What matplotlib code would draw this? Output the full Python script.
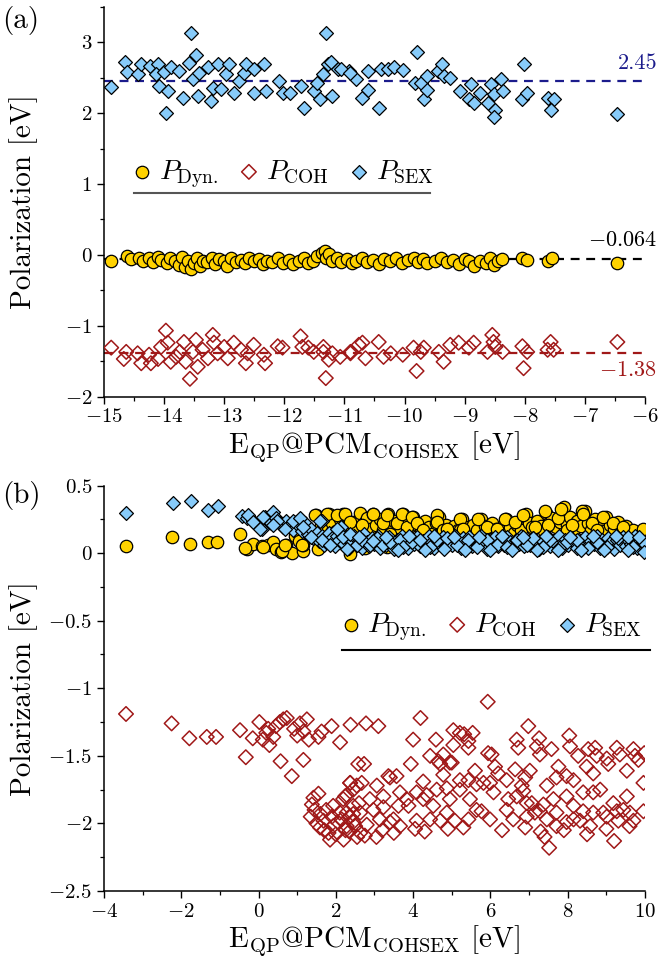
import numpy as np
import matplotlib
matplotlib.use("Agg")
import matplotlib.pyplot as plt
from matplotlib.ticker import MultipleLocator, FuncFormatter

plt.rcParams['font.family'] = 'serif'
plt.rcParams['font.serif'] = ['cmr10']
plt.rcParams['mathtext.fontset'] = 'cm'
plt.rcParams['axes.formatter.use_mathtext'] = True
plt.rcParams['axes.unicode_minus'] = True

# ---------------- panel (a) data ----------------
sex_a_x = [-14.88,-14.65,-14.62,-14.44,-14.38,-14.24,-14.10,-14.14,-14.08,-14.00,-13.94,-13.97,-13.89,-13.75,-13.69,
           -13.59,-13.52,-13.47,-13.44,-13.42,-13.27,-13.22,-13.19,-13.10,-13.06,-12.97,-12.92,-12.84,-12.76,-12.67,
           -12.64,-12.50,-12.50,-12.34,-12.31,-12.09,-12.03,-11.90,-11.73,-11.68,-11.51,-11.45,-11.40,-11.35,-11.28,
           -11.23,-11.20,-11.10,-10.93,-10.81,-13.55,-11.31,-11.06,-10.90,-10.70,-10.60,-10.61,-10.43,-10.40,-10.28,
           -10.18,-10.02,-9.80,-9.82,-9.73,-9.68,-9.62,-9.62,-9.45,-9.37,-9.35,-9.24,-9.07,-8.90,-8.93,
           -8.85,-8.74,-8.62,-8.57,-8.52,-8.49,-8.52,-8.40,-8.37,-8.02,-8.04,-7.96,-7.62,-7.52,-7.57,-6.46]
sex_a_y = [2.37,2.72,2.58,2.55,2.70,2.67,2.70,2.55,2.38,2.58,2.31,2.00,2.65,2.59,2.22,
           2.71,2.48,2.82,2.24,2.57,2.66,2.17,2.35,2.70,2.34,2.55,2.70,2.29,2.45,2.57,
           2.69,2.62,2.29,2.69,2.31,2.45,2.29,2.29,2.38,2.07,2.31,2.43,2.20,2.55,2.69,
           2.73,2.24,2.62,2.59,2.48,3.14,3.13,2.62,2.57,2.22,2.33,2.59,2.07,2.62,2.62,
           2.65,2.61,2.87,2.43,2.43,2.20,2.52,2.33,2.59,2.69,2.52,2.50,2.31,2.41,2.20,
           2.15,2.29,2.15,2.41,2.27,2.05,1.94,2.48,2.31,2.70,2.20,2.29,2.22,2.20,2.05,1.99]

dyn_a_x = [-14.88,-14.62,-14.55,-14.42,-14.35,-14.25,-14.18,-14.10,-14.05,-13.95,-13.90,-13.82,-13.75,-13.70,-13.65,
           -13.60,-13.55,-13.50,-13.45,-13.40,-13.35,-13.28,-13.20,-13.15,-13.08,-13.00,-12.95,-12.88,-12.80,-12.72,
           -12.65,-12.58,-12.50,-12.42,-12.35,-12.28,-12.20,-12.10,-12.02,-11.92,-11.85,-11.75,-11.68,-11.60,-11.52,
           -11.45,-11.38,-11.33,-11.30,-11.25,-11.20,-11.12,-11.05,-10.95,-10.88,-10.80,-10.70,-10.62,-10.52,-10.43,
           -10.35,-10.25,-10.15,-10.05,-9.95,-9.85,-9.78,-9.70,-9.62,-9.50,-9.40,-9.30,-9.20,-9.10,-9.00,
           -8.92,-8.85,-8.75,-8.65,-8.58,-8.52,-8.45,-8.38,-8.05,-7.97,-7.62,-7.55,-6.46]
dyn_a_y = [-0.08,-0.02,-0.06,-0.05,-0.09,-0.04,-0.10,-0.03,-0.07,-0.12,-0.04,-0.08,-0.14,-0.03,-0.17,
           -0.09,-0.20,-0.12,-0.05,-0.15,-0.08,-0.10,-0.04,-0.13,-0.06,-0.09,-0.15,-0.05,-0.10,-0.07,
           -0.12,-0.04,-0.09,-0.06,-0.13,-0.08,-0.10,-0.05,-0.11,-0.07,-0.13,-0.09,-0.05,-0.12,-0.08,
           -0.02,0.03,0.06,-0.04,0.01,-0.08,-0.05,-0.10,-0.06,-0.12,-0.08,-0.05,-0.10,-0.07,-0.13,
           -0.06,-0.09,-0.05,-0.11,-0.07,-0.04,-0.10,-0.06,-0.12,-0.08,-0.05,-0.10,-0.07,-0.13,-0.06,
           -0.09,-0.15,-0.08,-0.11,-0.05,-0.14,-0.08,-0.06,-0.05,-0.07,-0.08,-0.05,-0.12]

coh_a_x = [-14.88,-14.67,-14.63,-14.44,-14.38,-14.25,-14.22,-14.10,-14.05,-13.97,-13.94,-13.89,-13.80,-13.74,-13.67,
           -13.64,-13.57,-13.52,-13.47,-13.44,-13.36,-13.27,-13.19,-13.17,-13.11,-13.00,-12.94,-12.84,-12.72,-12.64,
           -12.61,-12.51,-12.34,-12.32,-12.11,-12.03,-11.73,-11.70,-11.60,-11.51,-11.35,-11.35,-11.31,-11.26,-11.20,
           -11.07,-10.90,-10.76,-10.90,-10.70,-10.65,-10.43,-10.35,-10.23,-10.03,-9.85,-9.80,-9.73,-9.68,-9.43,
           -9.35,-9.24,-9.10,-8.93,-8.85,-8.62,-8.54,-8.52,-8.49,-8.37,-8.04,-8.02,-7.96,-7.62,-7.57,-7.52,-6.46]
coh_a_y = [-1.31,-1.47,-1.37,-1.39,-1.53,-1.41,-1.53,-1.47,-1.30,-1.07,-1.24,-1.51,-1.44,-1.37,-1.23,
           -1.51,-1.75,-1.37,-1.20,-1.58,-1.34,-1.46,-1.13,-1.24,-1.39,-1.30,-1.46,-1.24,-1.34,-1.53,
           -1.39,-1.27,-1.41,-1.53,-1.29,-1.31,-1.15,-1.30,-1.31,-1.37,-1.30,-1.37,-1.74,-1.48,-1.39,
           -1.44,-1.37,-1.27,-1.39,-1.24,-1.46,-1.23,-1.44,-1.39,-1.41,-1.31,-1.64,-1.37,-1.31,-1.37,
           -1.51,-1.27,-1.24,-1.31,-1.24,-1.37,-1.13,-1.23,-1.30,-1.37,-1.29,-1.60,-1.37,-1.34,-1.23,-1.34,-1.23]

mean_sex_a = 2.45
mean_dyn_a = -0.064
mean_coh_a = -1.38

# ---------------- panel (b) data ----------------
dyn_b_x = [-3.43,-2.23,-1.77,-1.32,-1.08,-0.48,-0.31,-0.14,0.08,0.25,0.38,0.45,0.57,0.70,0.86,
           0.94,1.05,1.14,1.16,1.30,1.48,1.55,1.62,1.70,1.81,1.90,2.00,2.10,2.19,2.28,
           2.37,2.45,2.55,2.63,2.72,2.80,2.88,2.96,3.05,3.14,3.22,3.34,3.42,3.50,3.60,
           3.73,3.80,3.90,4.00,4.10,4.20,4.30,4.40,4.50,4.58,4.66,4.75,4.85,4.95,5.05,
           5.15,5.26,5.35,5.45,5.55,5.65,5.76,5.85,5.95,6.05,6.15,6.25,6.33,6.41,6.50,
           6.60,6.70,6.80,6.91,7.00,7.10,7.20,7.30,7.38,7.45,7.52,7.60,7.70,7.80,7.90,
           7.98,8.06,8.15,8.25,8.35,8.44,8.52,8.60,8.70,8.80,8.90,8.99,9.10,9.20,9.30,
           9.40,9.50,9.60,9.70,9.80,9.95]
dyn_b_y = [0.054,0.116,0.071,0.079,0.083,0.138,0.030,0.070,0.050,0.059,0.080,0.030,0.010,0.060,0.003,
           0.128,0.090,0.017,0.060,0.140,0.280,0.030,0.200,0.100,0.290,0.220,0.160,0.250,0.290,0.200,
           -0.010,0.230,0.170,0.300,0.220,0.260,0.180,0.290,0.210,0.250,0.170,0.290,0.200,0.240,0.160,
           0.290,0.220,0.190,0.270,0.210,0.160,0.240,0.190,0.140,0.220,0.270,0.180,0.210,0.150,0.200,
           0.170,0.250,0.190,0.140,0.210,0.170,0.250,0.200,0.160,0.220,0.180,0.140,0.200,0.250,0.190,
           0.150,0.210,0.170,0.290,0.220,0.180,0.240,0.200,0.160,0.300,0.220,0.260,0.190,0.230,0.340,
           0.210,0.270,0.180,0.240,0.200,0.310,0.220,0.170,0.250,0.200,0.160,0.270,0.210,0.180,0.230,
           0.150,0.200,0.130,0.170,0.120,0.180]
dyn_b2_x = [-0.35,0.12,0.60,0.68,1.12,1.46,1.76,2.02,2.24,2.37,2.67,2.97,3.23,3.32,3.40,3.57,3.70,3.83,3.96,4.09,
            4.26,4.61,4.61,4.78,4.87,5.21,5.21,5.30,5.69,5.90,6.16,6.38,6.64,6.84,7.07,7.15,7.41,7.50,7.76,7.83,
            7.97,8.10,8.36,8.40,8.62,8.75,8.92,9.18,9.44,2.75,3.06,3.32]
dyn_b2_y = [0.035,0.047,0.017,0.059,0.059,0.28,0.29,0.28,0.29,0.23,0.21,0.29,0.22,0.28,0.145,0.22,0.29,0.19,0.27,0.22,
            0.17,0.28,0.23,0.17,0.18,0.25,0.17,0.18,0.25,0.19,0.18,0.25,0.23,0.28,0.19,0.19,0.31,0.21,0.26,0.33,
            0.17,0.21,0.31,0.29,0.22,0.17,0.27,0.22,0.19,0.035,0.096,0.047]

sex_b_x = [-3.43,-2.22,-1.76,-1.32,-1.05,-0.44,-0.30,-0.15,-0.05,0.09,0.16,0.25,0.32,0.38,0.45,
           0.55,0.62,0.70,0.80,0.90,0.98,1.05,1.12,1.20,1.28,1.35,1.42,1.50,1.57,1.64,
           1.64,1.70,1.75,1.82,1.90,1.97,2.03,2.08,2.13,2.20,2.27,2.34,2.41,2.48,2.55,
           2.62,2.68,2.74,2.80,2.87,2.94,3.00,3.08,3.15,3.22,3.30,3.37,3.44,3.50,3.57,
           3.64,3.72,3.80,3.87,3.94,4.02,4.10,4.17,4.25,4.33,4.40,4.48,4.55,4.63,4.70,
           4.78,4.85,4.93,5.00,5.08,5.15,5.23,5.30,5.38,5.45,5.53,5.60,5.68,5.75,5.83,
           5.90,5.98,6.05,6.13,6.20,6.28,6.35,6.43,6.50,6.58,6.65,6.73,6.80,6.88,6.95,
           7.03,7.10,7.18,7.25,7.33,7.40,7.48,7.55,7.63,7.70,7.78,7.85,7.93,8.00,8.08,
           8.15,8.23,8.30,8.38,8.45,8.53,8.60,8.68,8.75,8.83,8.90,8.98,9.05,9.13,9.20,
           9.28,9.35,9.43,9.50,9.58,9.65,9.73,9.80,9.88,9.95]
sex_b_y = [0.300,0.370,0.385,0.320,0.350,0.275,0.260,0.240,0.210,0.180,0.270,0.250,0.220,0.305,0.260,
           0.220,0.190,0.240,0.200,0.170,0.230,0.200,0.160,0.220,0.140,0.180,0.110,0.150,0.090,0.240,
           0.130,0.060,0.080,0.150,0.110,0.050,0.130,0.100,0.190,0.070,0.120,0.040,0.080,0.130,0.060,
           0.100,0.040,0.145,0.080,0.050,0.110,0.070,0.130,0.040,0.090,0.060,0.120,0.080,0.030,0.100,
           0.060,0.130,0.080,0.040,0.110,0.070,0.120,0.050,0.090,0.060,0.130,0.080,0.040,0.100,0.070,
           0.120,0.050,0.090,0.060,0.130,0.080,0.040,0.110,0.070,0.120,0.050,0.090,0.060,0.130,0.080,
           0.030,0.100,0.070,0.120,0.050,0.090,0.060,0.120,0.080,0.040,0.100,0.070,0.130,0.050,0.090,
           0.060,0.110,0.080,0.030,0.100,0.060,0.120,0.050,0.090,0.070,0.130,0.040,0.100,0.060,0.110,
           0.080,0.040,0.100,0.060,0.120,0.050,0.090,0.070,0.130,0.040,0.100,0.060,0.110,0.080,0.030,
           0.100,0.060,0.120,0.050,0.090,0.070,0.130,0.040,0.090,0.060]
sex_b2_x = [-0.27,-0.14,0.04,0.12,0.47,0.38,0.68,0.90,1.07,1.16,1.37,1.59,1.63,1.85,2.02,2.19,2.37,2.54,2.67,2.88,
            3.06,3.23,3.40,3.66,3.75,3.96,4.18,4.44,4.61,4.87,5.13,5.43,5.64,5.90,6.16,6.42,6.68,6.94,7.11,7.37,
            7.54,7.80,7.97,8.23,8.53,8.75,9.01,9.31,9.57,9.70,9.96,9.98]
sex_b2_y = [0.28,0.23,0.18,0.27,0.24,0.21,0.18,0.24,0.26,0.19,0.12,0.24,0.096,0.06,0.18,0.12,0.145,0.06,0.096,0.06,
            0.11,0.06,0.083,0.096,0.047,0.083,0.096,0.047,0.096,0.11,0.06,0.096,0.047,0.096,0.06,0.047,0.096,0.06,0.11,0.047,
            0.096,0.047,0.083,0.096,0.035,0.083,0.047,0.11,0.12,0.047,0.083,0.01]
sex_b3_x = [2.30,2.60,2.95,3.30,3.60,3.90,4.30,4.55,4.80,5.05,5.35,5.70,6.00,6.30,6.55,6.85,7.20,7.45,7.75,8.05,
            8.35,8.65,8.95,9.25,9.55,9.85]
sex_b3_y = [0.03,0.12,0.09,0.12,0.02,0.13,0.02,0.13,0.03,0.12,0.02,0.12,0.02,0.13,0.02,0.12,0.02,0.13,0.02,0.12,
            0.02,0.13,0.02,0.13,0.02,0.12]

coh_b_x = [-3.43,-2.25,-1.79,-1.34,-1.10,-0.48,-0.33,-0.15,0.02,0.11,0.25,0.28,0.38,0.45,0.57,
           0.64,0.73,0.86,0.92,1.16,1.16,1.25,1.07,1.55,1.63,1.89,2.11,2.38,1.42,1.38,
           1.35,1.68,1.59,1.93,1.93,2.19,2.28,2.37,2.45,2.15,2.28,2.58,2.54,1.81,5.93,
           2.78,3.10,4.19,4.00,4.59,5.04,5.21,5.32,5.54,5.43,5.04,4.78,4.95,5.94,6.98,
           7.26,6.68,6.72,8.04,8.06,8.71,9.27,9.98,2.73,3.94,2.37,2.67,3.40,3.57,4.78,
           4.65,5.00,5.21,5.64,5.99,6.12,6.42,6.64,6.81,7.02,7.28,7.58,7.76,7.97,8.27,
           8.49,8.66,8.84,9.05,9.35,9.53,9.74,9.96,9.53,2.24,3.36,3.66,4.09,4.35,4.61,
           4.87,4.26,5.43,5.47,6.46,6.42,6.85,7.07,7.37,7.63,7.97,8.15,8.40,8.66,8.92,
           9.27,9.70,9.96,2.97,3.23,3.49,3.88,4.09,4.70,5.08,5.43,5.77,7.15,7.46,7.97,
           8.32,9.31,2.45,2.80,3.40,2.63,4.05,1.85,2.20,7.40,7.52,9.20,2.75,3.05]
coh_b_y = [-1.19,-1.26,-1.37,-1.36,-1.36,-1.31,-1.51,-1.37,-1.25,-1.38,-1.30,-1.42,-1.36,-1.28,-1.54,
           -1.23,-1.22,-1.65,-1.30,-1.32,-1.53,-1.23,-1.26,-1.36,-1.32,-1.28,-1.40,-1.27,-1.81,-1.86,
           -1.95,-1.98,-2.03,-1.87,-2.02,-1.82,-1.79,-1.70,-1.93,-1.97,-2.02,-1.56,-1.72,-2.07,-1.10,
           -1.26,-1.28,-1.22,-1.38,-1.38,-1.31,-1.33,-1.34,-1.33,-1.44,-1.42,-1.49,-1.55,-1.48,-1.28,
           -1.37,-1.38,-1.44,-1.35,-1.43,-1.44,-1.44,-1.48,-1.56,-1.56,-1.70,-1.70,-1.66,-1.65,-1.64,
           -1.54,-1.55,-1.68,-1.71,-1.70,-1.58,-1.68,-1.60,-1.72,-1.61,-1.49,-1.45,-1.58,-1.65,-1.50,
           -1.58,-1.63,-1.75,-1.56,-1.49,-1.61,-1.50,-1.70,-1.80,-1.80,-1.65,-1.77,-1.77,-1.79,-1.75,
           -1.74,-1.69,-1.68,-1.82,-1.82,-1.90,-1.76,-1.85,-1.86,-1.82,-1.80,-1.87,-1.91,-1.77,-1.92,
           -1.91,-1.98,-1.91,-1.90,-1.88,-1.97,-1.87,-1.98,-1.98,-1.98,-1.97,-1.91,-1.92,-1.97,-1.99,
           -1.98,-1.98,-1.99,-2.01,-1.99,-2.07,-2.04,-2.12,-2.12,-2.10,-2.18,-2.13,-2.09,-2.10]
coh_b2_x = [4.44,4.70,5.43,6.03,6.20,6.90,7.20,7.46,7.71,8.15,8.40,8.53,8.75,9.01,9.70,9.83,9.18,9.44,9.01,8.66,
            8.15,7.71,7.28,6.94,6.68,6.08,5.82,5.60,5.21,4.95,4.52,4.26,3.83,3.62,3.23,3.06,2.88,2.45,2.28,2.63,
            3.14,3.66,4.44,4.87,5.64,5.99,6.59,6.94,7.71,8.58,9.61,2.00,2.35,2.55,3.20,3.50,4.30,4.90,5.30,6.30,
            6.90,7.30,7.90,8.50,9.00,9.60,1.45,1.50,1.60,1.70,1.75,1.90,2.05,2.10,2.25,2.35,2.50,2.60,1.55,2.45,
            1.30,1.00,0.55,0.20]
coh_b2_y = [-1.50,-1.56,-1.39,-1.49,-1.63,-1.66,-1.43,-1.72,-1.66,-1.68,-1.77,-1.45,-1.50,-1.52,-1.45,-1.53,-1.85,-1.90,-1.95,-1.92,
            -1.97,-1.92,-1.91,-1.85,-1.80,-1.77,-1.70,-1.61,-1.75,-1.82,-1.87,-1.82,-1.82,-1.87,-1.80,-1.72,-1.82,-1.87,-1.92,-1.92,
            -1.97,-2.02,-1.97,-1.92,-1.90,-1.97,-1.97,-1.95,-2.02,-2.02,-1.92,-2.08,-2.06,-2.10,-2.05,-2.07,-2.06,-2.04,-2.03,-2.05,
            -2.03,-2.06,-2.05,-2.08,-2.04,-2.02,-1.90,-2.00,-1.93,-2.05,-1.90,-1.95,-1.99,-1.92,-2.05,-1.95,-2.02,-1.85,-1.78,-1.75,
            -1.38,-1.35,-1.25,-1.33]

C_DYN = '#FFD200'
C_SEX = '#87CBFA'
C_COH = '#A01818'
C_NAVY = '#1C1C8C'


def style(ax):
    for s in ['top', 'right']:
        ax.spines[s].set_visible(False)
    for s in ['left', 'bottom']:
        ax.spines[s].set_linewidth(1.1)
    ax.tick_params(which='major', direction='out', length=5, width=1.0, labelsize=15)
    ax.tick_params(which='minor', direction='out', length=3, width=0.9)


fig = plt.figure(figsize=(6.61, 9.74), dpi=100)
axa = fig.add_axes([0.1573, 0.5929, 0.8185, 0.3999])
axb = fig.add_axes([0.1573, 0.0852, 0.8185, 0.4163])
labels = [r'$P_{\rm Dyn.}$', r'$P_{\rm COH}$', r'$P_{\rm SEX}$']

# ---- (a)
axa.axhline(mean_sex_a, color=C_NAVY, ls=(0, (4, 3)), lw=1.6, zorder=1)
axa.axhline(mean_dyn_a, color='black', ls=(0, (4, 3)), lw=1.6, zorder=1)
axa.axhline(mean_coh_a, color=C_COH, ls=(0, (4, 3)), lw=1.6, zorder=1)
h1 = axa.scatter(dyn_a_x, dyn_a_y, s=80, marker='o', facecolor=C_DYN, edgecolor='black', lw=0.9, zorder=3)
h2 = axa.scatter(coh_a_x, coh_a_y, s=55, marker='D', facecolor='none', edgecolor=C_COH, lw=1.1, zorder=3)
h3 = axa.scatter(sex_a_x, sex_a_y, s=50, marker='D', facecolor=C_SEX, edgecolor='black', lw=0.9, zorder=3)
axa.text(-5.8, 2.70, '2.45', color=C_NAVY, fontsize=16, ha='right', va='center')
axa.text(-5.8, 0.21, '$-0.064$', color='black', fontsize=16, ha='right', va='center')
axa.text(-5.8, -1.63, '$-1.38$', color=C_COH, fontsize=16, ha='right', va='center')
axa.set_xlim(-15, -6)
axa.set_ylim(-2, 3.5)
axa.xaxis.set_major_locator(MultipleLocator(1))
axa.xaxis.set_minor_locator(MultipleLocator(0.5))
axa.yaxis.set_major_locator(MultipleLocator(1))
axa.yaxis.set_minor_locator(MultipleLocator(0.5))
style(axa)
axa.set_xlabel(r'$\mathrm{E_{QP}@PCM_{COHSEX}}$ [eV]', fontsize=21, labelpad=2)
axa.set_ylabel('Polarization [eV]', fontsize=21)
axa.yaxis.set_label_coords(-0.122, 0.5)
axa.legend([h1, h2, h3], labels,
           loc='center left', bbox_to_anchor=(0.045, 0.571), ncol=3, frameon=False,
           fontsize=20, handletextpad=0.1, columnspacing=0.6, handlelength=1.0,
           borderpad=0, borderaxespad=0, scatterpoints=1)
axa.plot([0.055, 0.603], [0.523, 0.523], transform=axa.transAxes, color='#555555', lw=1.5, clip_on=False)

# ---- (b)
g1 = axb.scatter(dyn_b_x + dyn_b2_x, dyn_b_y + dyn_b2_y, s=80, marker='o',
                 facecolor=C_DYN, edgecolor='black', lw=0.9, zorder=3)
g2 = axb.scatter(coh_b_x + coh_b2_x, coh_b_y + coh_b2_y, s=55, marker='D',
                 facecolor='none', edgecolor=C_COH, lw=1.1, zorder=3)
g3 = axb.scatter(sex_b_x + sex_b2_x + sex_b3_x, sex_b_y + sex_b2_y + sex_b3_y, s=50, marker='D',
                 facecolor=C_SEX, edgecolor='black', lw=0.9, zorder=4)
axb.set_xlim(-4, 10)
axb.set_ylim(-2.5, 0.5)
axb.xaxis.set_major_locator(MultipleLocator(2))
axb.xaxis.set_minor_locator(MultipleLocator(1))
axb.yaxis.set_major_locator(MultipleLocator(0.5))
axb.yaxis.set_minor_locator(MultipleLocator(0.25))
axb.yaxis.set_major_formatter(FuncFormatter(lambda v, p: '$%g$' % (0 if abs(v) < 1e-9 else v)))
style(axb)
axb.set_xlabel(r'$\mathrm{E_{QP}@PCM_{COHSEX}}$ [eV]', fontsize=21, labelpad=2)
axb.set_ylabel('Polarization [eV]', fontsize=21)
axb.yaxis.set_label_coords(-0.122, 0.5)
axb.legend([g1, g2, g3], labels,
           loc='center left', bbox_to_anchor=(0.43, 0.651), ncol=3, frameon=False,
           fontsize=20, handletextpad=0.1, columnspacing=0.6, handlelength=1.0,
           borderpad=0, borderaxespad=0, scatterpoints=1)
axb.plot([0.44, 1.009], [0.594, 0.594], transform=axb.transAxes, color='black', lw=1.5, clip_on=False)

fig.text(0.003, 0.979, '(a)', fontsize=21, ha='left', va='center')
fig.text(0.003, 0.491, '(b)', fontsize=21, ha='left', va='center')

fig.savefig('out.png', dpi=100)
